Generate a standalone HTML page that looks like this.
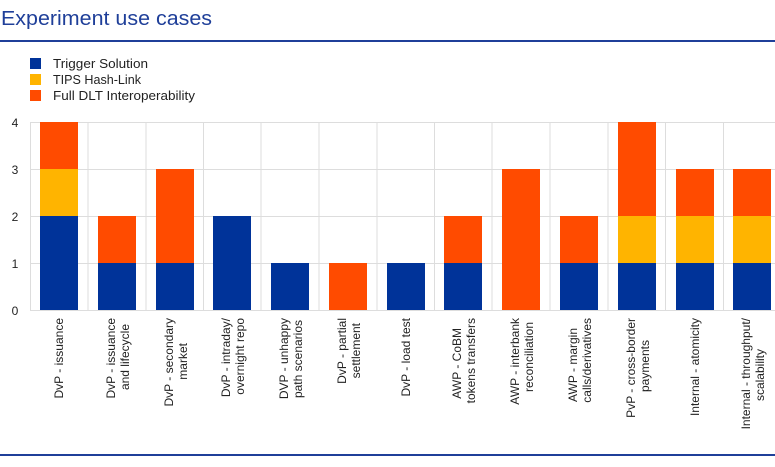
<!DOCTYPE html>
<html><head><meta charset="utf-8"><style>
body{margin:0;background:#fff;width:775px;height:462px;overflow:hidden;font-family:"Liberation Sans",Arial,sans-serif}
</style></head><body>
<svg width="775" height="462" xmlns="http://www.w3.org/2000/svg" font-family="Liberation Sans, Arial, sans-serif">
<text x="1" y="25" font-size="20" fill="#1f3f99" textLength="211" lengthAdjust="spacingAndGlyphs">Experiment use cases</text>
<rect x="0" y="40" width="775" height="2" fill="#1f3f99"/>
<rect x="0" y="454" width="775" height="2" fill="#1f3f99"/>
<rect x="30" y="58" width="11" height="11" fill="#003399"/>
<rect x="30" y="74" width="11" height="11" fill="#ffb400"/>
<rect x="30" y="90" width="11" height="11" fill="#ff4b00"/>
<g font-size="13" fill="#222">
<text x="53" y="68" textLength="95" lengthAdjust="spacingAndGlyphs">Trigger Solution</text>
<text x="53" y="84" textLength="88" lengthAdjust="spacingAndGlyphs">TIPS Hash-Link</text>
<text x="53" y="100" textLength="142" lengthAdjust="spacingAndGlyphs">Full DLT Interoperability</text>
</g>
<g font-size="12" fill="#222" text-anchor="middle">
<text x="15" y="127">4</text><text x="15" y="174">3</text><text x="15" y="221">2</text><text x="15" y="268">1</text><text x="15" y="315">0</text>
</g>
<g stroke="#ddd" stroke-width="1">
<line x1="30" y1="122.5" x2="775" y2="122.5"/><line x1="30" y1="169.5" x2="775" y2="169.5"/><line x1="30" y1="216.5" x2="775" y2="216.5"/><line x1="30" y1="263.5" x2="775" y2="263.5"/><line x1="30" y1="310.5" x2="775" y2="310.5"/>
<line x1="30.5" y1="122" x2="30.5" y2="311"/><line x1="88" y1="122" x2="88" y2="311"/><line x1="146" y1="122" x2="146" y2="311"/><line x1="203.5" y1="122" x2="203.5" y2="311"/><line x1="261" y1="122" x2="261" y2="311"/><line x1="319" y1="122" x2="319" y2="311"/><line x1="377" y1="122" x2="377" y2="311"/><line x1="434.5" y1="122" x2="434.5" y2="311"/><line x1="492" y1="122" x2="492" y2="311"/><line x1="550" y1="122" x2="550" y2="311"/><line x1="608" y1="122" x2="608" y2="311"/><line x1="665.5" y1="122" x2="665.5" y2="311"/><line x1="723.5" y1="122" x2="723.5" y2="311"/>
</g>
<g>
<rect x="40" y="216" width="38" height="94" fill="#003399"/><rect x="40" y="169" width="38" height="47" fill="#ffb400"/><rect x="40" y="122" width="38" height="47" fill="#ff4b00"/>
<rect x="98" y="263" width="38" height="47" fill="#003399"/><rect x="98" y="216" width="38" height="47" fill="#ff4b00"/>
<rect x="156" y="263" width="38" height="47" fill="#003399"/><rect x="156" y="169" width="38" height="94" fill="#ff4b00"/>
<rect x="213" y="216" width="38" height="94" fill="#003399"/>
<rect x="271" y="263" width="38" height="47" fill="#003399"/>
<rect x="329" y="263" width="38" height="47" fill="#ff4b00"/>
<rect x="387" y="263" width="38" height="47" fill="#003399"/>
<rect x="444" y="263" width="38" height="47" fill="#003399"/><rect x="444" y="216" width="38" height="47" fill="#ff4b00"/>
<rect x="502" y="169" width="38" height="141" fill="#ff4b00"/>
<rect x="560" y="263" width="38" height="47" fill="#003399"/><rect x="560" y="216" width="38" height="47" fill="#ff4b00"/>
<rect x="618" y="263" width="38" height="47" fill="#003399"/><rect x="618" y="216" width="38" height="47" fill="#ffb400"/><rect x="618" y="122" width="38" height="94" fill="#ff4b00"/>
<rect x="676" y="263" width="38" height="47" fill="#003399"/><rect x="676" y="216" width="38" height="47" fill="#ffb400"/><rect x="676" y="169" width="38" height="47" fill="#ff4b00"/>
<rect x="733" y="263" width="38" height="47" fill="#003399"/><rect x="733" y="216" width="38" height="47" fill="#ffb400"/><rect x="733" y="169" width="38" height="47" fill="#ff4b00"/>
</g>
<g font-size="12" fill="#222" text-anchor="end">
<text transform="translate(63,318) rotate(-90)">DvP - issuance</text>
<text transform="translate(115,318) rotate(-90)">DvP - issuance</text><text transform="translate(129,318) rotate(-90)"><tspan x="-6">and lifecycle</tspan></text>
<text transform="translate(173,318) rotate(-90)">DvP - secondary</text><text transform="translate(187,318) rotate(-90)"><tspan x="-25">market</tspan></text>
<text transform="translate(230,318) rotate(-90)">DvP - intraday/</text><text transform="translate(244,318) rotate(-90)">overnight repo</text>
<text transform="translate(288,318) rotate(-90)">DVP - unhappy</text><text transform="translate(302,318) rotate(-90)"><tspan x="-2">path scenarios</tspan></text>
<text transform="translate(346,318) rotate(-90)">DvP - partial</text><text transform="translate(360,318) rotate(-90)"><tspan x="-5">settlement</tspan></text>
<text transform="translate(410,318) rotate(-90)">DvP - load test</text>
<text transform="translate(461,318) rotate(-90)"><tspan x="-10">AWP - CoBM</tspan></text><text transform="translate(475,318) rotate(-90)">tokens transfers</text>
<text transform="translate(519,318) rotate(-90)">AWP - interbank</text><text transform="translate(533,318) rotate(-90)"><tspan x="-4">reconciliation</tspan></text>
<text transform="translate(577,318) rotate(-90)"><tspan x="-10">AWP - margin</tspan></text><text transform="translate(591,318) rotate(-90)">calls/derivatives</text>
<text transform="translate(635,318) rotate(-90)">PvP - cross-border</text><text transform="translate(649,318) rotate(-90)"><tspan x="-22">payments</tspan></text>
<text transform="translate(699,318) rotate(-90)">Internal - atomicity</text>
<text transform="translate(750,318) rotate(-90)">Internal - throughput/</text><text transform="translate(764,318) rotate(-90)"><tspan x="-31">scalability</tspan></text>
</g>
</svg>
</body></html>
